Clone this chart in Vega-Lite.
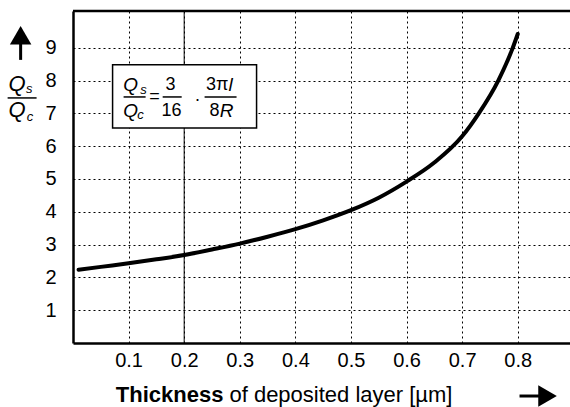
{
  "$schema": "https://vega.github.io/schema/vega-lite/v6.json",
  "width": 497,
  "height": 332,
  "autosize": {"type": "none"},
  "padding": {"left": 73, "top": 11, "right": 0, "bottom": 64},
  "background": "white",
  "config": {
    "view": {"stroke": null},
    "font": "Liberation Sans",
    "axis": {
      "grid": true, "gridColor": "black", "gridDash": [2, 3], "gridOpacity": 1, "gridWidth": 1,
      "domainColor": "black", "domainWidth": 2.5, "ticks": false,
      "labelColor": "black", "labelFont": "Liberation Sans", "title": null
    }
  },
  "encoding": {
    "x": {"field": "x", "type": "quantitative",
      "scale": {"domain": [0, 0.894], "nice": false, "zero": false},
      "axis": {"values": [0.1, 0.2, 0.3, 0.4, 0.5, 0.6, 0.7, 0.8], "format": ".1f", "labelFontSize": 20, "labelPadding": 7}},
    "y": {"field": "y", "type": "quantitative",
      "scale": {"domain": [0, 10.12], "nice": false, "zero": false},
      "axis": {"values": [1, 2, 3, 4, 5, 6, 7, 8, 9], "labelFontSize": 20, "labelPadding": 17}}
  },
  "layer": [
    {
      "data": {"values": [{"x": 0.2, "x2": 0.2, "y": 0, "y2": 10.12}]},
      "mark": {"type": "rule", "color": "black", "strokeWidth": 1},
      "encoding": {"y2": {"field": "y2"}}
    },
    {
      "data": {"values": [{"x": 0, "x2": 0.894, "y": 10.12}]},
      "mark": {"type": "rule", "color": "black", "strokeWidth": 2.5},
      "encoding": {"x2": {"field": "x2"}}
    },
    {
      "data": {"values": [
        {"x": 0.01, "y": 2.23}, {"x": 0.05, "y": 2.32}, {"x": 0.1, "y": 2.43}, {"x": 0.15, "y": 2.55},
        {"x": 0.2, "y": 2.68}, {"x": 0.25, "y": 2.85}, {"x": 0.3, "y": 3.03}, {"x": 0.35, "y": 3.24},
        {"x": 0.4, "y": 3.47}, {"x": 0.45, "y": 3.74}, {"x": 0.5, "y": 4.05}, {"x": 0.55, "y": 4.43},
        {"x": 0.6, "y": 4.92}, {"x": 0.65, "y": 5.5}, {"x": 0.7, "y": 6.3}, {"x": 0.73, "y": 7.0},
        {"x": 0.765, "y": 8.0}, {"x": 0.79, "y": 8.95}, {"x": 0.8, "y": 9.42}
      ]},
      "mark": {"type": "line", "color": "black", "strokeWidth": 4, "interpolate": "monotone", "strokeCap": "round"}
    },
    {
      "data": {"values": [{"x": 0.0712, "x2": 0.3302, "y": 6.55, "y2": 8.48}]},
      "mark": {"type": "rect", "fill": "white", "stroke": "black", "strokeWidth": 1.5},
      "encoding": {"x2": {"field": "x2"}, "y2": {"field": "y2"}}
    },
    {
      "data": {"values": [
        {"x": 0.091, "x2": 0.1306, "y": 7.5},
        {"x": 0.1613, "x2": 0.1955, "y": 7.5},
        {"x": 0.2367, "x2": 0.2942, "y": 7.5},
        {"x": -0.1176, "x2": -0.0655, "y": 7.47}
      ]},
      "mark": {"type": "rule", "color": "black", "strokeWidth": 1.5},
      "encoding": {"x2": {"field": "x2"}}
    },
    {
      "data": {"values": [
        {"label": "Q", "x": 0.1036, "y": 7.87},
        {"label": "Q", "x": 0.1036, "y": 7.07},
        {"label": "R", "x": 0.2763, "y": 7.07},
        {"label": "l", "x": 0.2835, "y": 7.87}
      ]},
      "mark": {"type": "text", "fontSize": 19, "fontStyle": "italic", "color": "black", "baseline": "middle", "align": "center"},
      "encoding": {"text": {"field": "label"}}
    },
    {
      "data": {"values": [
        {"label": "Q", "x": -0.1005, "y": 7.88},
        {"label": "Q", "x": -0.1005, "y": 7.1}
      ]},
      "mark": {"type": "text", "fontSize": 22, "fontStyle": "italic", "color": "black", "baseline": "middle", "align": "center"},
      "encoding": {"text": {"field": "label"}}
    },
    {
      "data": {"values": [
        {"label": "s", "x": 0.127, "y": 7.71},
        {"label": "c", "x": 0.1216, "y": 6.95},
        {"label": "s", "x": -0.0785, "y": 7.74},
        {"label": "c", "x": -0.0775, "y": 6.88}
      ]},
      "mark": {"type": "text", "fontSize": 13, "fontStyle": "italic", "color": "black", "baseline": "middle", "align": "center"},
      "encoding": {"text": {"field": "label"}}
    },
    {
      "data": {"values": [
        {"label": "=", "x": 0.1468, "y": 7.5},
        {"label": "3", "x": 0.1755, "y": 7.87},
        {"label": "16", "x": 0.1773, "y": 7.07},
        {"label": "·", "x": 0.224, "y": 7.41},
        {"label": "3π", "x": 0.2592, "y": 7.87},
        {"label": "8", "x": 0.2547, "y": 7.07}
      ]},
      "mark": {"type": "text", "fontSize": 18, "color": "black", "baseline": "middle", "align": "center"},
      "encoding": {"text": {"field": "label"}}
    },
    {
      "data": {"values": [{"label": "Thickness", "x": 0.276, "y": -1.8}]},
      "mark": {"type": "text", "fontSize": 22, "fontWeight": "bold", "color": "black", "baseline": "alphabetic", "align": "right", "dx": -3},
      "encoding": {"text": {"field": "label"}}
    },
    {
      "data": {"values": [{"label": "of deposited layer [µm]", "x": 0.276, "y": -1.8}]},
      "mark": {"type": "text", "fontSize": 22, "color": "black", "baseline": "alphabetic", "align": "left", "dx": 3},
      "encoding": {"text": {"field": "label"}}
    },
    {
      "data": {"values": [{"x": -0.0942, "y": 8.63, "y2": 9.2}]},
      "mark": {"type": "rule", "color": "black", "strokeWidth": 3},
      "encoding": {"y2": {"field": "y2"}}
    },
    {
      "data": {"values": [{"x": 0.8032, "x2": 0.84, "y": -1.616}]},
      "mark": {"type": "rule", "color": "black", "strokeWidth": 3},
      "encoding": {"x2": {"field": "x2"}}
    },
    {
      "data": {"values": [{"x": -0.0942, "y": 9.38}]},
      "mark": {"type": "point", "shape": "triangle-up", "filled": true, "color": "black", "opacity": 1, "size": 460}
    },
    {
      "data": {"values": [{"x": 0.8536, "y": -1.616}]},
      "mark": {"type": "point", "shape": "triangle-right", "filled": true, "color": "black", "opacity": 1, "size": 460}
    }
  ]
}
